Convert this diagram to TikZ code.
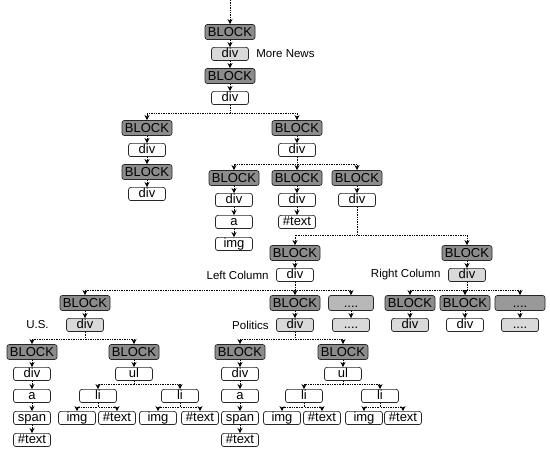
\documentclass[tikz,border=0pt]{standalone}
\usepackage{fontspec}
\setmainfont{Liberation Sans}
\usetikzlibrary{positioning,arrows.meta}

\begin{document}
\begin{tikzpicture}[
    x=1pt, y=1pt,
    node distance=22pt,
    box/.style={rectangle, rounded corners=2.5pt, draw=black!85, line width=0.7pt, inner xsep=1pt, font=\fontsize{13}{13}\selectfont},
    block/.style={box, fill=black!45, minimum width=50pt, text height=9.3pt, text depth=0pt, inner ysep=2.9pt},
    tag/.style={box, fill=white, minimum width=37pt, text height=9pt, text depth=2.6pt, inner ysep=0.8pt},
    lite/.style={tag, fill=black!15},
    more/.style={block, fill=black!28},
    note/.style={font=\fontsize{11.5}{11.5}\selectfont},
    arrow/.style={-{Stealth[length=5pt,width=5pt]}, densely dotted, line width=0.7pt}
]
    \useasboundingbox (0,0) rectangle (550,-454);

    % Top of the page
    \coordinate (entry) at (230,0);
    \node[block] (b0) at (230,-32) {BLOCK};
    \node[lite, below of=b0] (d0) {div};
    \node[note, right=4pt of d0] (lblnews) {More News};
    \node[block, below of=d0] (b1) {BLOCK};
    \node[tag, below of=b1] (d1) {div};

    % Two branches
    \node[block] (b2) at (147,-128) {BLOCK};
    \node[tag, below of=b2] (d2) {div};
    \node[block, below of=d2] (b3) {BLOCK};
    \node[tag, below of=b3] (d3) {div};
    \node[block] (b4) at (297,-128) {BLOCK};
    \node[tag, below of=b4] (d4) {div};

    % Header blocks
    \node[block] (b5) at (234,-178) {BLOCK};
    \node[tag, below of=b5] (d5) {div};
    \node[tag, below of=d5] (a5) {a};
    \node[tag, below of=a5] (img5) {img};
    \node[block] (b6) at (297,-178) {BLOCK};
    \node[tag, below of=b6] (d6) {div};
    \node[tag, below of=d6] (txt6) {\#text};
    \node[block] (b7) at (357,-178) {BLOCK};
    \node[tag, below of=b7] (d7) {div};

    % Columns
    \node[block] (lcb) at (295,-253) {BLOCK};
    \node[tag, below of=lcb] (lcd) {div};
    \node[note, left=4pt of lcd] (lblleft) {Left Column};
    \node[block] (rcb) at (467,-253) {BLOCK};
    \node[lite, below of=rcb] (rcd) {div};
    \node[note, left=4pt of rcd] (lblright) {Right Column};

    % Left column content
    \node[block] (usb) at (85,-303) {BLOCK};
    \node[lite, below of=usb] (usd) {div};
    \node[note, left=14pt of usd] (lblus) {U.S.};
    \node[block] (pob) at (295,-303) {BLOCK};
    \node[lite, below of=pob] (pod) {div};
    \node[note, left=4pt of pod] (lblpol) {Politics};
    \node[more, minimum width=45pt] (ldots) at (351,-303) {....};
    \node[lite, below of=ldots] (ldots2) {....};

    % Right column content
    \node[block] (rb1) at (410,-303) {BLOCK};
    \node[lite, below of=rb1] (rd1) {div};
    \node[block] (rb2) at (465,-303) {BLOCK};
    \node[tag, below of=rb2] (rd2) {div};
    \node[more, fill=black!40] (rdots) at (520,-303) {....};
    \node[lite, below of=rdots] (rdots2) {....};

    % U.S. section
    \node[block] (usb1) at (32,-352) {BLOCK};
    \node[tag, below of=usb1] (usd1) {div};
    \node[tag, below of=usd1] (usa1) {a};
    \node[tag, below of=usa1] (uss1) {span};
    \node[tag, below of=uss1] (ust1) {\#text};
    \node[block] (usb2) at (134,-352) {BLOCK};
    \node[tag, below of=usb2] (usul) {ul};
    \node[tag] (usli1) at (98,-396) {li};
    \node[tag] (usli2) at (180,-396) {li};
    \node[tag] (usimg1) at (77,-418) {img};
    \node[tag] (ustx1) at (117,-418) {\#text};
    \node[tag] (usimg2) at (158,-418) {img};
    \node[tag] (ustx2) at (200,-418) {\#text};

    % Politics section
    \node[block] (pob1) at (240,-352) {BLOCK};
    \node[tag, below of=pob1] (pod1) {div};
    \node[tag, below of=pod1] (poa1) {a};
    \node[tag, below of=poa1] (pos1) {span};
    \node[tag, below of=pos1] (pot1) {\#text};
    \node[block] (pob2) at (343,-352) {BLOCK};
    \node[tag, below of=pob2] (poul) {ul};
    \node[tag] (poli1) at (304,-396) {li};
    \node[tag] (poli2) at (380,-396) {li};
    \node[tag] (poimg1) at (282,-418) {img};
    \node[tag] (potx1) at (322,-418) {\#text};
    \node[tag] (poimg2) at (364,-418) {img};
    \node[tag] (potx2) at (403,-418) {\#text};

    % Straight arrows
    \draw[arrow] (entry) -- (b0);
    \draw[arrow] (b0) -- (d0);
    \draw[arrow] (d0) -- (b1);
    \draw[arrow] (b1) -- (d1);
    \draw[arrow] (b2) -- (d2);
    \draw[arrow] (d2) -- (b3);
    \draw[arrow] (b3) -- (d3);
    \draw[arrow] (b4) -- (d4);
    \draw[arrow] (b5) -- (d5);
    \draw[arrow] (d5) -- (a5);
    \draw[arrow] (a5) -- (img5);
    \draw[arrow] (b6) -- (d6);
    \draw[arrow] (d6) -- (txt6);
    \draw[arrow] (b7) -- (d7);
    \draw[arrow] (lcb) -- (lcd);
    \draw[arrow] (rcb) -- (rcd);
    \draw[arrow] (usb) -- (usd);
    \draw[arrow] (pob) -- (pod);
    \draw[arrow] (ldots) -- (ldots2);
    \draw[arrow] (rb1) -- (rd1);
    \draw[arrow] (rb2) -- (rd2);
    \draw[arrow] (rdots) -- (rdots2);
    \draw[arrow] (usb1) -- (usd1);
    \draw[arrow] (usd1) -- (usa1);
    \draw[arrow] (usa1) -- (uss1);
    \draw[arrow] (uss1) -- (ust1);
    \draw[arrow] (usb2) -- (usul);
    \draw[arrow] (pob1) -- (pod1);
    \draw[arrow] (pod1) -- (poa1);
    \draw[arrow] (poa1) -- (pos1);
    \draw[arrow] (pos1) -- (pot1);
    \draw[arrow] (pob2) -- (poul);

    % Forks
    \foreach \p/\c/\s in {d1/b2/7, d1/b4/7, d4/b5/6, d4/b6/6, d4/b7/6,
        d7/lcb/10, d7/rcb/10, lcd/usb/5, lcd/pob/5, lcd/ldots/5,
        rcd/rb1/5, rcd/rb2/5, rcd/rdots/5, usd/usb1/5, usd/usb2/5,
        usul/usli1/5, usul/usli2/5, usli1/usimg1/4, usli1/ustx1/4,
        usli2/usimg2/4, usli2/ustx2/4, pod/pob1/5, pod/pob2/5,
        poul/poli1/5, poul/poli2/5, poli1/poimg1/4, poli1/potx1/4,
        poli2/poimg2/4, poli2/potx2/4}
        \draw[arrow] (\p.south) |- ([yshift=\s pt]\c.north) -- (\c.north);
\end{tikzpicture}
\end{document}
